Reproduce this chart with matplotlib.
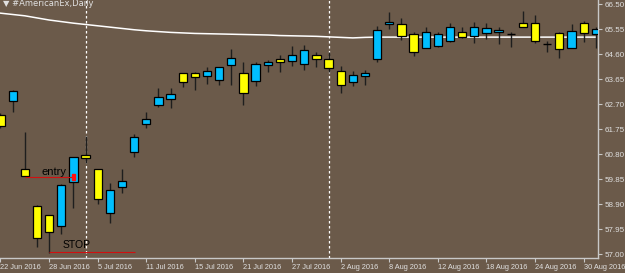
import matplotlib
matplotlib.use('Agg')
import matplotlib.pyplot as plt
from matplotlib.patches import Rectangle

# daily bars, index 0 = 22 Jun 2016
opens = [62.29, 62.84, 60.24, 58.85, 58.48, 58.08, 59.74, 60.76, 60.23, 58.56,
         59.55, 60.90, 61.96, 62.68, 62.91, 63.88, 63.89, 63.79, 63.62, 64.18,
         63.89, 63.60, 64.18, 64.42, 64.36, 64.22, 64.58, 64.42, 63.97, 63.56,
         63.79, 64.41, 65.74, 65.75, 65.37, 64.85, 64.93, 65.12, 65.44, 65.31,
         65.40, 65.44, 65.36, 65.79, 65.78, 64.99, 65.40, 64.83, 65.79, 65.36]
highs = [62.35, 63.24, 61.66, 58.87, 58.50, 59.67, 60.70, 61.50, 60.25, 59.70,
         60.24, 61.57, 62.42, 63.31, 63.31, 63.89, 63.91, 64.11, 64.12, 64.80,
         64.30, 64.32, 64.38, 64.56, 64.90, 64.95, 64.70, 64.70, 64.16, 63.98,
         64.00, 65.69, 66.20, 65.98, 65.45, 65.65, 65.44, 65.78, 65.63, 65.82,
         65.78, 65.65, 65.44, 66.26, 66.09, 65.12, 65.44, 65.75, 65.88, 65.65]
lows = [61.80, 62.41, 59.98, 57.29, 57.06, 57.77, 58.75, 60.48, 58.91, 58.18,
        59.34, 60.71, 61.81, 62.61, 62.57, 63.35, 63.24, 63.47, 63.43, 63.43,
        62.67, 63.41, 63.94, 63.92, 64.17, 63.99, 64.11, 63.92, 63.14, 63.40,
        63.43, 64.30, 65.55, 65.14, 64.54, 64.84, 64.89, 65.06, 65.22, 65.02,
        65.18, 64.99, 64.89, 65.64, 65.02, 64.70, 64.45, 64.83, 65.06, 64.83]
closes = [61.88, 63.22, 59.99, 57.61, 57.84, 59.62, 60.70, 60.66, 59.09, 59.43,
          59.79, 61.47, 62.13, 62.97, 63.08, 63.56, 63.73, 63.95, 64.11, 64.46,
          63.12, 64.23, 64.31, 64.32, 64.58, 64.76, 64.42, 64.09, 63.43, 63.81,
          63.90, 65.52, 65.83, 65.31, 64.70, 65.44, 65.37, 65.63, 65.27, 65.65,
          65.59, 65.51, 65.36, 65.64, 65.12, 64.99, 64.79, 65.50, 65.40, 65.56]
ma = [66.16, 66.11, 66.06, 65.98, 65.90, 65.84, 65.78, 65.73, 65.68, 65.63,
      65.58, 65.53, 65.49, 65.46, 65.43, 65.41, 65.39, 65.38, 65.37, 65.36,
      65.35, 65.34, 65.33, 65.31, 65.30, 65.29, 65.28, 65.26, 65.24, 65.22,
      65.24, 65.25, 65.25, 65.25, 65.25, 65.25, 65.25, 65.25, 65.25, 65.25,
      65.25, 65.25, 65.25, 65.25, 65.25, 65.25, 65.25, 65.25, 65.25, 65.25]

date_ticks = [0, 4, 8, 12, 16, 20, 24, 28, 32, 36, 40, 44, 48]
date_labels = ['22 Jun 2016', '28 Jun 2016', '5 Jul 2016', '11 Jul 2016', '15 Jul 2016',
               '21 Jul 2016', '27 Jul 2016', '2 Aug 2016', '8 Aug 2016', '12 Aug 2016',
               '18 Aug 2016', '24 Aug 2016', '30 Aug 2016']
price_ticks = [57.00, 57.95, 58.90, 59.85, 60.80, 61.75, 62.70, 63.65, 64.60, 65.55, 66.50]
separators = [7, 27]   # 1 Jul, 1 Aug
entry_price = 59.93
stop_price = 57.08

bg = '#6b5a4a'
txt = '#e0e0e0'

fig = plt.figure(figsize=(6.25, 2.73), dpi=100, facecolor=bg)
ax = fig.add_axes([0, 15/273, 598/625, 258/273], facecolor=bg)

# moving average
ax.plot(range(len(ma)), ma, color='white', lw=1.1, zorder=1)

# period separators
for s in separators:
    ax.axvline(s, color='white', lw=0.9, ls=(0, (2, 2)), zorder=1)

# candles
w = 0.68
for i in range(len(opens)):
    o, h, l, c = opens[i], highs[i], lows[i], closes[i]
    ax.vlines(i, l, h, color='#1e1e1e', lw=1, zorder=2)
    if abs(c - o) < 0.01:
        ax.hlines(o, i - w/2, i + w/2, color='black', lw=1, zorder=3)
        continue
    col = '#00bfff' if c > o else '#ffff00'
    ax.bar(i, abs(c - o), bottom=min(o, c), width=w, color=col,
           edgecolor='black', linewidth=0.9, zorder=3)

# entry / stop annotations
ax.hlines(entry_price, 2, 5.9, color='#d01010', lw=0.8, zorder=4)
ax.add_patch(Rectangle((5.85, entry_price - 0.12), 0.26, 0.24, color='#ff1010', zorder=5))
ax.text(3.35, entry_price + 0.21, 'entry', fontsize=8, color='black',
        family='Liberation Sans', va='center', ha='left', zorder=5)
ax.hlines(stop_price, 4, 11.1, color='#d01010', lw=0.8, zorder=4)
ax.text(5.1, stop_price + 0.27, 'STOP', fontsize=7.5, color='black',
        family='Liberation Sans', va='center', ha='left', zorder=5)

ax.set_xlim(-0.04, 49.18)
ax.set_ylim(56.86, 66.66)

for side in ['top', 'left']:
    ax.spines[side].set_visible(False)
for side in ['right', 'bottom']:
    ax.spines[side].set_color('#c8c8c8')
    ax.spines[side].set_linewidth(1)

ax.yaxis.tick_right()
ax.set_yticks(price_ticks)
ax.set_yticklabels(['%.2f' % p for p in price_ticks], family='Liberation Sans')
ax.set_xticks(date_ticks)
ax.set_xticklabels(date_labels, ha='left', family='Liberation Sans')
ax.tick_params(axis='y', direction='out', length=3, width=0.8, pad=2,
               labelsize=5.8, colors='#c8c8c8', labelcolor=txt)
ax.tick_params(axis='x', direction='out', length=3, width=0.8, pad=1,
               labelsize=5.3, colors='#c8c8c8', labelcolor=txt)

fig.text(3/625, 1 - 4/273, '\u25bc #AmericanEx,Daily', fontsize=6, color=txt,
         family='DejaVu Sans', va='center', ha='left')

plt.savefig('out.png', dpi=100, facecolor=bg)
